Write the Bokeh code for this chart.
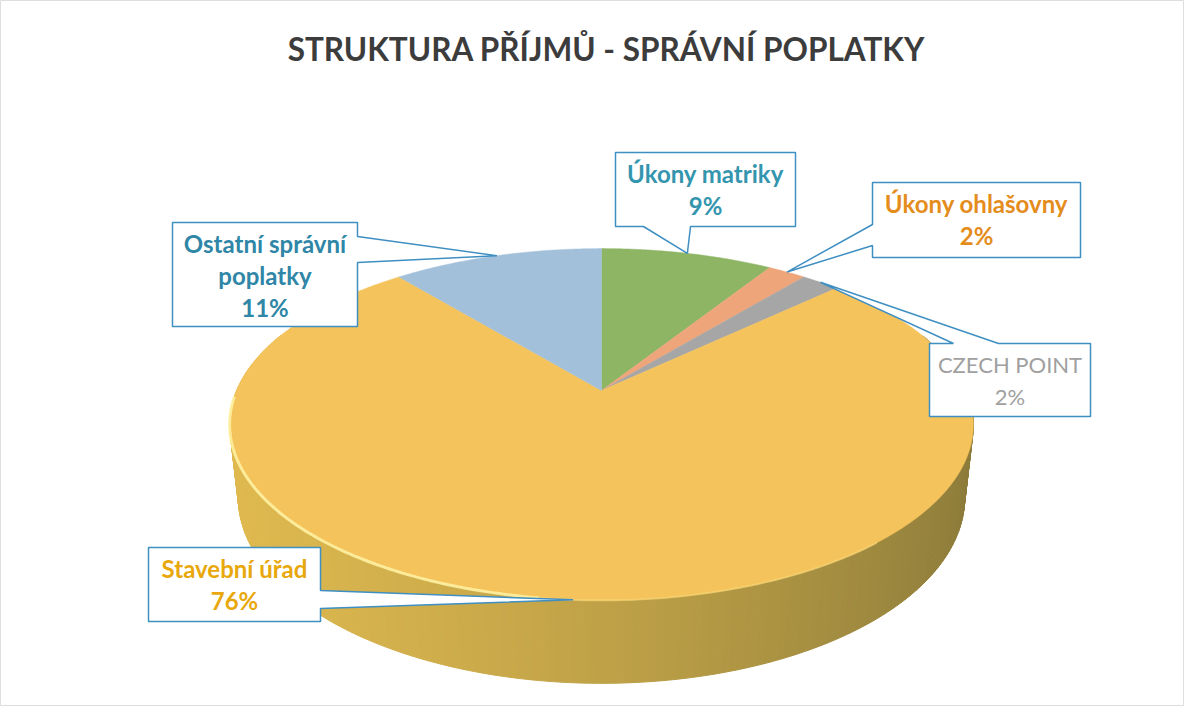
import numpy as np
from bokeh.plotting import figure
from bokeh.models import Range1d
from bokeh.core.properties import value
from bokeh.embed import file_html
from bokeh.resources import INLINE

# ---------------- data ----------------
categories = ["Úkony matriky", "Úkony ohlašovny", "CZECH POINT", "Stavební úřad", "Ostatní správní poplatky"]
shares = [9, 2, 2, 76, 11]
label_lines = [["Úkony matriky"], ["Úkony ohlašovny"], ["CZECH POINT"], ["Stavební úřad"], ["Ostatní správní", "poplatky"]]
title_text = "STRUKTURA PŘÍJMŮ - SPRÁVNÍ POPLATKY"

# ---------------- styles ----------------
slice_colors = ["#8db564", "#eea57a", "#a6a6a6", "#f5c35b", "#a3c0da"]
text_colors = ["#3495ae", "#e48c1c", "#a0a0a0", "#e8a80c", "#2f86a6"]
text_bold = [True, True, False, True, True]
text_sizes = ["24px", "24px", "22px", "24px", "24px"]
wall_light = np.array([224, 186, 80])
wall_dark = np.array([138, 122, 58])

# ---------------- layout ----------------
W, H_PX = 1184, 706
CX, CY = 601.0, 390.0
FOC, DIST = 1673.0, 4.585
ALPHA = np.arcsin(0.464)
THICK = 0.228
# callout boxes (x0, x1, y0, y1), side with pointer, pointer base positions
callouts = [
    dict(box=(615, 795, 152, 226), side="bottom", base=(643, 690)),
    dict(box=(872, 1080, 182, 257), side="left", base=(224, 245)),
    dict(box=(929, 1090, 343, 416), side="top", base=(953, 998)),
    dict(box=(148, 320, 547, 621), side="right", base=(590, 608)),
    dict(box=(172, 357, 222, 326), side="right", base=(236, 262)),
]


def proj(X, Y, Z):
    ca, sa = np.cos(ALPHA), np.sin(ALPHA)
    depth = DIST + Y * ca - Z * sa
    up = Y * sa + Z * ca
    return CX + FOC * X / depth, CY - FOC * up / depth


def rim(theta, z=0.0):
    return proj(np.sin(theta), np.cos(theta), z)


p = figure(width=W, height=H_PX, output_backend="svg", toolbar_location=None,
           x_range=Range1d(0, W), y_range=Range1d(H_PX, 0),
           min_border=0, background_fill_color="white",
           outline_line_color="#dedede")
p.axis.visible = False
p.grid.visible = False

total = float(sum(shares))
fr = np.cumsum([0] + shares) / total
starts = fr[:-1] * 2 * np.pi
ends = fr[1:] * 2 * np.pi

# ---- side walls (shaded by facing direction) ----
wx, wy, wc = [], [], []
for i in range(len(shares)):
    n = max(4, int((ends[i] - starts[i]) / (2 * np.pi) * 360))
    th = np.linspace(starts[i], ends[i], n + 1)
    for j in range(n):
        t0, t1 = th[j], th[j + 1]
        if np.cos((t0 + t1) / 2) > 0.35:
            continue
        x0, y0 = rim(t0)
        x1, y1 = rim(t1)
        x2, y2 = rim(t1, -THICK)
        x3, y3 = rim(t0, -THICK)
        wx.append([x0, x1, x2, x3])
        wy.append([y0, y1, y2, y3])
        s = np.sin((t0 + t1) / 2)
        t = ((s + 1) / 2) ** 1.4
        col = wall_light * (1 - t) + wall_dark * t
        base = np.array([int(slice_colors[i][k:k + 2], 16) for k in (1, 3, 5)])
        ref = np.array([245, 195, 91])
        col = np.clip(col * base / ref, 0, 255)
        wc.append("#%02x%02x%02x" % tuple(int(c) for c in col))
p.patches(wx, wy, fill_color=wc, line_color=wc, line_width=1)

# ---- top faces ----
tx, ty = [], []
for i in range(len(shares)):
    n = max(6, int((ends[i] - starts[i]) / (2 * np.pi) * 720))
    th = np.linspace(starts[i], ends[i], n + 1)
    xs, ys = rim(th)
    ax_, ay_ = proj(0.0, 0.0, 0.0)
    tx.append([ax_] + list(xs))
    ty.append([ay_] + list(ys))
p.patches(tx, ty, fill_color=slice_colors, line_color=slice_colors, line_width=0.5)

# highlight along the front-left bevel of the big slice
hth = np.linspace(np.radians(188), np.radians(268), 120)
hx, hy = rim(hth)
p.line(hx, hy, line_color="#fff3a6", line_width=3, line_alpha=0.85)
hx2, hy2 = rim(np.linspace(np.radians(140), np.radians(188), 60))
p.line(hx2, hy2, line_color="#f8d879", line_width=2, line_alpha=0.6)

# ---- callouts ----
mids = (starts + ends) / 2
cxs, cys = [], []
for i, c in enumerate(callouts):
    x0, x1, y0, y1 = c["box"]
    b0, b1 = c["base"]
    tipx, tipy = rim(mids[i])
    if c["side"] == "top":
        pts = [(x0, y0), (b0, y0), (tipx, tipy), (b1, y0), (x1, y0), (x1, y1), (x0, y1)]
    elif c["side"] == "right":
        pts = [(x0, y0), (x1, y0), (x1, b0), (tipx, tipy), (x1, b1), (x1, y1), (x0, y1)]
    elif c["side"] == "bottom":
        pts = [(x0, y0), (x1, y0), (x1, y1), (b1, y1), (tipx, tipy), (b0, y1), (x0, y1)]
    else:
        pts = [(x0, y0), (x1, y0), (x1, y1), (x0, y1), (x0, b1), (tipx, tipy), (x0, b0)]
    cxs.append([q[0] for q in pts])
    cys.append([q[1] for q in pts])
p.patches(cxs, cys, fill_color="white", line_color="#3f8fc2", line_width=1.5)

for i, c in enumerate(callouts):
    x0, x1, y0, y1 = c["box"]
    lines = label_lines[i] + ["%d%%" % shares[i]]
    ys = [y0 + 21 + 32 * k for k in range(len(lines))]
    p.text(x=[(x0 + x1) / 2] * len(lines), y=ys, text=lines,
           text_font=value("Lato"), text_font_size=text_sizes[i],
           text_font_style="bold" if text_bold[i] else "normal",
           text_color=text_colors[i], text_align="center", text_baseline="middle")

p.text(x=[606], y=[48], text=[title_text], text_font=value("Lato"),
       text_font_size="31.5px", text_font_style="bold", text_color="#3c3c3c",
       text_align="center", text_baseline="middle")

open("out.html", "w").write(file_html(p, INLINE))
